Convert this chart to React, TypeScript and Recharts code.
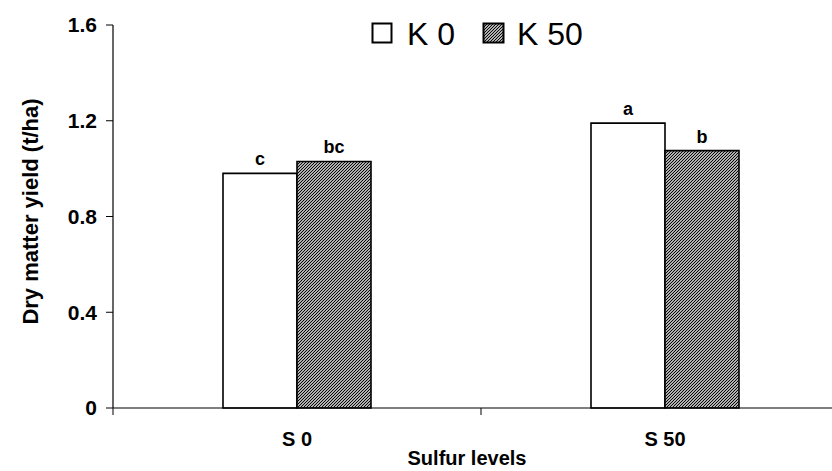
import React from 'react'
import { Bar, BarChart, Label, LabelList, XAxis, YAxis } from 'recharts'

// Dry matter yield by sulfur level, K0 vs K50, with significance letters.

const levels = ['S 0', 'S 50']
const k0Yield = [0.98, 1.19]
const k50Yield = [1.03, 1.075]
const k0Letters = ['c', 'a']
const k50Letters = ['bc', 'b']
const yTicks = [0, 0.4, 0.8, 1.2, 1.6]

const data = levels.map((level, i) => ({
  level,
  k0: k0Yield[i],
  k50: k50Yield[i],
  k0Letter: k0Letters[i],
  k50Letter: k50Letters[i],
}))

const FONT = '"Liberation Sans", Arial, Helvetica, sans-serif'
const X_TICK_SIZE = 6
const X_TICK_MARGIN = 18

function HatchDefs({ id }: { id: string }) {
  return (
    <defs>
      <pattern id={id} width={3} height={3} patternUnits="userSpaceOnUse">
        <rect width={3} height={3} fill="#fff" />
        <path d="M-1,1 L1,-1 M0,3 L3,0 M2,4 L4,2" stroke="#000" strokeWidth={1.2} />
      </pattern>
    </defs>
  )
}

function LegendOverlay() {
  return (
    <svg
      width={260}
      height={50}
      style={{ position: 'absolute', left: 360, top: 10, fontFamily: FONT }}
    >
      <HatchDefs id="hatch-legend" />
      <rect x={12.5} y={13.5} width={19} height={19} fill="#fff" stroke="#000" strokeWidth={2} />
      <text x={47} y={35} fontSize={32} fill="#000">K 0</text>
      <rect x={123.5} y={13.5} width={20} height={19} fill="url(#hatch-legend)" stroke="#000" strokeWidth={2} />
      <text x={157} y={35} fontSize={32} fill="#000">K 50</text>
    </svg>
  )
}

// category label plus tick marks at the category boundaries (not the centres)
function CategoryTick(props: any) {
  const { x, y, payload, index, visibleTicksCount } = props
  const half = payload?.offset ?? 0
  const axisY = y - X_TICK_SIZE - X_TICK_MARGIN
  const isLast = index === (visibleTicksCount ?? levels.length) - 1
  return (
    <g>
      <line x1={x - half} x2={x - half} y1={axisY} y2={axisY + 7} stroke="#000" />
      {isLast && <line x1={x + half} x2={x + half} y1={axisY} y2={axisY + 7} stroke="#000" />}
      <text x={x} y={y} dy="0.71em" textAnchor="middle" fontSize={20} fontWeight="bold" fill="#000">
        {payload.value}
      </text>
    </g>
  )
}

export default function App() {
  return (
    <div
      style={{
        position: 'absolute',
        left: 0,
        top: 0,
        width: 832,
        height: 471,
        overflow: 'hidden',
        background: '#fff',
      }}
    >
      <BarChart
        width={860}
        height={471}
        data={data}
        margin={{ top: 25, right: 11, bottom: 0, left: 0 }}
        barGap={0}
        style={{ fontFamily: FONT }}
      >
        <HatchDefs id="hatch" />
        <XAxis
          dataKey="level"
          height={63}
          tickLine={false}
          axisLine={{ stroke: '#000', strokeWidth: 1.2 }}
          tick={<CategoryTick />}
          tickSize={X_TICK_SIZE}
          tickMargin={X_TICK_MARGIN}
        >
          <Label
            content={({ viewBox }: any) => (
              <text
                x={viewBox.x + viewBox.width / 2 - 14}
                y={458}
                textAnchor="middle"
                dominantBaseline="central"
                fontSize={20}
                fontWeight="bold"
                fill="#000"
              >
                Sulfur levels
              </text>
            )}
          />
        </XAxis>
        <YAxis
          width={113}
          domain={[0, 1.6]}
          ticks={yTicks}
          tickFormatter={(v: number) => (v === 0 ? '0' : v.toFixed(1))}
          tick={{ fill: '#000', fontSize: 21, fontWeight: 'bold' }}
          tickSize={7}
          tickMargin={9}
          tickLine={{ stroke: '#000' }}
          axisLine={{ stroke: '#000', strokeWidth: 1.2 }}
        >
          <Label
            content={({ viewBox }: any) => {
              const cx = viewBox.x + 30
              const cy = viewBox.y + viewBox.height / 2 - 5
              return (
                <text
                  x={cx}
                  y={cy}
                  transform={`rotate(-90, ${cx}, ${cy})`}
                  textAnchor="middle"
                  dominantBaseline="central"
                  fontSize={22}
                  fontWeight="bold"
                  fill="#000"
                >
                  Dry matter yield (t/ha)
                </text>
              )
            }}
          />
        </YAxis>
        <Bar
          dataKey="k0"
          name="K 0"
          barSize={74}
          fill="#fff"
          stroke="#000"
          strokeWidth={1.6}
          isAnimationActive={false}
        >
          <LabelList dataKey="k0Letter" position="top" offset={8} fill="#000" fontSize={18} fontWeight="bold" />
        </Bar>
        <Bar
          dataKey="k50"
          name="K 50"
          barSize={74}
          fill="url(#hatch)"
          stroke="#000"
          strokeWidth={1.6}
          isAnimationActive={false}
        >
          <LabelList dataKey="k50Letter" position="top" offset={8} fill="#000" fontSize={18} fontWeight="bold" />
        </Bar>
      </BarChart>
      <LegendOverlay />
    </div>
  )
}
